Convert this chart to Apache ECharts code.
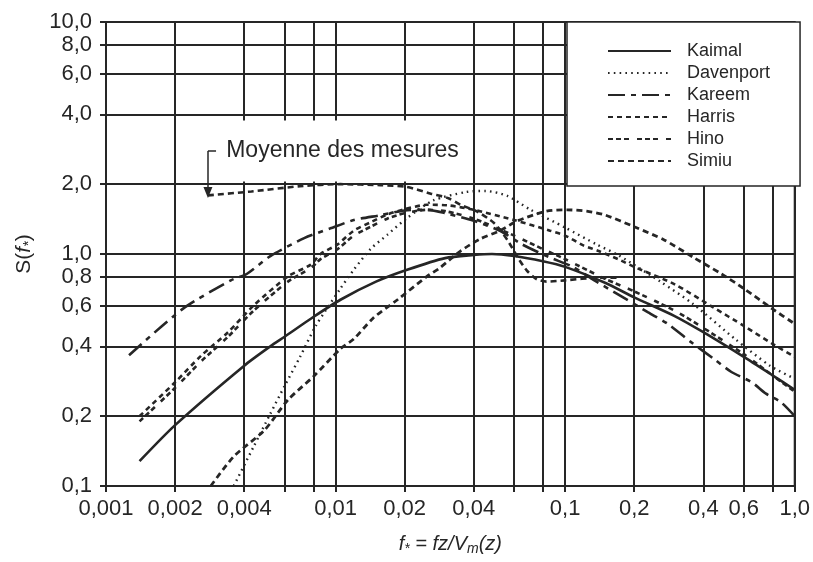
<!DOCTYPE html>
<html>
<head>
<meta charset="utf-8">
<script src="https://cdn.jsdelivr.net/npm/echarts@6/dist/echarts.min.js"></script>
<style>
  html, body { margin: 0; padding: 0; background: #fff; }
  #chart { width: 813px; height: 562px; }
</style>
</head>
<body>
<div id="chart"></div>
<script>
// Grid lines and tick labels (log-log axes)
const gridX = [0.001, 0.002, 0.004, 0.006, 0.008, 0.01, 0.02, 0.04, 0.06, 0.08, 0.1, 0.2, 0.4, 0.6, 0.8, 1];
const labelX = [0.001, 0.002, 0.004, 0.01, 0.02, 0.04, 0.1, 0.2, 0.4, 0.6, 1];
const labelXText = ['0,001', '0,002', '0,004', '0,01', '0,02', '0,04', '0,1', '0,2', '0,4', '0,6', '1,0'];
const gridY = [0.1, 0.2, 0.4, 0.6, 0.8, 1, 2, 4, 6, 8, 10];
const labelYText = ['0,1', '0,2', '0,4', '0,6', '0,8', '1,0', '2,0', '4,0', '6,0', '8,0', '10,0'];

// Spectra S(f*) as [f*, S] pairs
const kaimal = [[0.0014,0.128],[0.002,0.183],[0.004,0.33],[0.0052,0.40],[0.006,0.44],[0.008,0.535],[0.0105,0.635],[0.015,0.76],[0.0205,0.855],[0.03,0.96],[0.04,0.99],[0.048,1.0],[0.06,0.98],[0.08,0.93],[0.1,0.88],[0.15,0.75],[0.2,0.65],[0.3,0.54],[0.4,0.46],[0.6,0.36],[0.8,0.30],[1.0,0.26]];
const davenport = [[0.0036,0.10],[0.0044,0.148],[0.0052,0.205],[0.006,0.27],[0.007,0.36],[0.0082,0.49],[0.0105,0.71],[0.012,0.855],[0.0142,1.05],[0.0168,1.21],[0.0205,1.43],[0.0266,1.7],[0.037,1.85],[0.045,1.87],[0.056,1.78],[0.07,1.56],[0.1,1.3],[0.137,1.1],[0.17,0.99],[0.26,0.76],[0.36,0.61],[0.55,0.43],[0.78,0.33],[1.0,0.29]];
const kareem = [[0.00126,0.366],[0.00216,0.58],[0.0035,0.77],[0.0041,0.82],[0.0052,0.98],[0.0073,1.17],[0.0095,1.29],[0.012,1.40],[0.0157,1.47],[0.02,1.54],[0.025,1.55],[0.03,1.50],[0.04,1.39],[0.052,1.26],[0.065,1.1],[0.085,0.97],[0.108,0.88],[0.137,0.76],[0.17,0.67],[0.23,0.56],[0.28,0.5],[0.35,0.42],[0.45,0.35],[0.53,0.31],[0.65,0.28],[0.75,0.25],[0.87,0.23],[1.0,0.2]];
const harris = [[0.0014,0.2],[0.002,0.28],[0.0026,0.365],[0.0034,0.46],[0.0044,0.6],[0.0062,0.8],[0.0078,0.9],[0.0086,1.0],[0.0102,1.1],[0.012,1.26],[0.0142,1.37],[0.0168,1.48],[0.02,1.56],[0.025,1.63],[0.031,1.62],[0.04,1.55],[0.06,1.4],[0.086,1.26],[0.1,1.2],[0.12,1.09],[0.14,1.03],[0.17,0.95],[0.2,0.88],[0.3,0.74],[0.44,0.59],[0.6,0.49],[0.8,0.41],[1.0,0.36]];
const hino = [[0.0014,0.19],[0.002,0.265],[0.0026,0.345],[0.0034,0.44],[0.0044,0.57],[0.0062,0.76],[0.0078,0.87],[0.0086,0.95],[0.0102,1.05],[0.012,1.2],[0.0142,1.31],[0.0168,1.42],[0.02,1.5],[0.025,1.55],[0.03,1.53],[0.04,1.42],[0.06,1.2],[0.08,1.05],[0.1,0.95],[0.15,0.78],[0.2,0.69],[0.3,0.57],[0.4,0.48],[0.6,0.37],[0.8,0.3],[1.0,0.255]];
const simiu = [[0.00286,0.1],[0.0036,0.134],[0.0049,0.174],[0.0062,0.235],[0.008,0.296],[0.0105,0.39],[0.012,0.43],[0.0146,0.53],[0.0186,0.635],[0.025,0.8],[0.0284,0.87],[0.035,1.03],[0.0426,1.16],[0.052,1.26],[0.062,1.39],[0.083,1.53],[0.102,1.55],[0.124,1.53],[0.15,1.47],[0.2,1.31],[0.27,1.15],[0.36,0.97],[0.48,0.82],[0.6,0.71],[0.8,0.58],[1.0,0.5]];
const mesures = [[0.00278,1.79],[0.0043,1.86],[0.007,1.96],[0.0105,2.0],[0.0157,1.98],[0.0202,1.95],[0.026,1.82],[0.031,1.74],[0.035,1.63],[0.041,1.53],[0.049,1.36],[0.056,1.15],[0.062,0.97],[0.068,0.85],[0.075,0.78],[0.083,0.76],[0.1,0.77],[0.14,0.79],[0.17,0.79]];

// Annotation anchors for "Moyenne des mesures"
const arrowTop = [0.00278, 2.78];
const arrowTip = [0.00278, 1.84];
const bracketEnd = [0.00302, 2.78];
const noteAt = [0.00302, 2.78];

const INK = '#262626';
const FONT = '"Liberation Sans", Arial, Helvetica, sans-serif';

function findLabel(values, texts, v) {
  const i = values.findIndex(t => Math.abs(Math.log10(t) - Math.log10(v)) < 1e-6);
  return i >= 0 ? texts[i] : '';
}

function curve(name, data, dash, width) {
  return {
    name: name,
    type: 'line',
    data: data,
    showSymbol: false,
    symbol: 'none',
    smooth: 0.25,
    clip: true,
    lineStyle: { color: INK, width: width, type: dash, cap: 'butt' },
    itemStyle: { color: INK },
    emphasis: { disabled: true },
    z: 3
  };
}

const chart = echarts.init(document.getElementById('chart'), null, { renderer: 'canvas' });

const mesuresSeries = curve('Moyenne des mesures', mesures, [6, 4], 2.6);
mesuresSeries.markLine = {
  silent: true,
  animation: false,
  symbol: ['none', 'none'],
  lineStyle: { color: INK, width: 1.5, type: 'solid' },
  label: { show: false },
  data: [
    [{ coord: arrowTop, symbol: 'none' }, { coord: arrowTip, symbol: 'triangle', symbolSize: [9, 11] }],
    [{ coord: arrowTop, symbol: 'none' }, { coord: bracketEnd, symbol: 'none' }]
  ]
};
mesuresSeries.markPoint = {
  silent: true,
  animation: false,
  symbol: 'rect',
  symbolSize: 0,
  data: [{ coord: noteAt, value: 0 }],
  label: {
    show: true,
    position: 'right',
    distance: 0,
    formatter: 'Moyenne des mesures',
    color: INK,
    fontSize: 23,
    fontFamily: FONT,
    backgroundColor: '#fff',
    padding: [19, 6, 19, 10]
  }
};

chart.setOption({
  animation: false,
  backgroundColor: '#fff',
  grid: {
    left: 106, right: 18, top: 22, bottom: 76,
    show: true, borderColor: INK, borderWidth: 2, backgroundColor: 'transparent'
  },
  legend: {
    data: ['Kaimal', 'Davenport', 'Kareem', 'Harris', 'Hino', 'Simiu'],
    orient: 'vertical',
    left: 567, top: 22,
    padding: [20, 30, 16, 40],
    itemWidth: 63, itemHeight: 14, itemGap: 4,
    backgroundColor: '#fff',
    borderColor: INK, borderWidth: 1.5,
    selectedMode: false,
    itemStyle: { color: 'rgba(0,0,0,0)', borderColor: 'rgba(0,0,0,0)', borderWidth: 0, opacity: 0 },
    textStyle: { color: INK, fontSize: 18, fontFamily: FONT, lineHeight: 18, padding: [0, 0, 0, 11] }
  },
  xAxis: {
    type: 'log', logBase: 10, min: 0.001, max: 1,
    name: '{i|f}{s|*}{i| = fz/V}{s|m}{i|(z)}',
    nameLocation: 'middle', nameGap: 46,
    nameTextStyle: {
      color: INK, fontFamily: FONT,
      rich: {
        i: { fontSize: 20, fontStyle: 'italic', fontFamily: FONT, color: INK },
        s: { fontSize: 14, fontStyle: 'italic', fontFamily: FONT, color: INK, padding: [10, 0, 0, 0] }
      }
    },
    axisLine: { show: true, lineStyle: { color: INK, width: 2 } },
    axisTick: { show: true, inside: false, length: 6, customValues: gridX, lineStyle: { color: INK, width: 2 } },
    splitLine: { show: true, lineStyle: { color: INK, width: 2 } },
    minorTick: { show: false }, minorSplitLine: { show: false },
    axisLabel: {
      customValues: labelX, margin: 12, color: INK, fontSize: 22, fontFamily: FONT,
      formatter: v => findLabel(labelX, labelXText, v)
    }
  },
  yAxis: {
    type: 'log', logBase: 10, min: 0.1, max: 10,
    name: '{n|S(}{i|f}{s|*}{n|)}',
    nameLocation: 'middle', nameGap: 70, nameRotate: 90,
    nameTextStyle: {
      color: INK, fontFamily: FONT,
      rich: {
        n: { fontSize: 21, fontFamily: FONT, color: INK },
        i: { fontSize: 21, fontStyle: 'italic', fontFamily: FONT, color: INK },
        s: { fontSize: 14, fontStyle: 'italic', fontFamily: FONT, color: INK, padding: [10, 0, 0, 0] }
      }
    },
    axisLine: { show: true, lineStyle: { color: INK, width: 2 } },
    axisTick: { show: true, inside: false, length: 6, customValues: gridY, lineStyle: { color: INK, width: 2 } },
    splitLine: { show: true, lineStyle: { color: INK, width: 2 } },
    minorTick: { show: false }, minorSplitLine: { show: false },
    axisLabel: {
      customValues: gridY, margin: 14, color: INK, fontSize: 22, fontFamily: FONT,
      formatter: v => findLabel(gridY, labelYText, v)
    }
  },
  series: [
    curve('Kaimal', kaimal, 'solid', 2.6),
    curve('Davenport', davenport, [1.6, 4.2], 2.4),
    curve('Kareem', kareem, [17, 6, 5, 6], 2.6),
    curve('Harris', harris, [5, 4], 2.6),
    curve('Hino', hino, [5, 3, 5, 3, 5, 8], 2.6),
    curve('Simiu', simiu, [6, 4], 2.8),
    mesuresSeries
  ]
});
</script>
</body>
</html>
